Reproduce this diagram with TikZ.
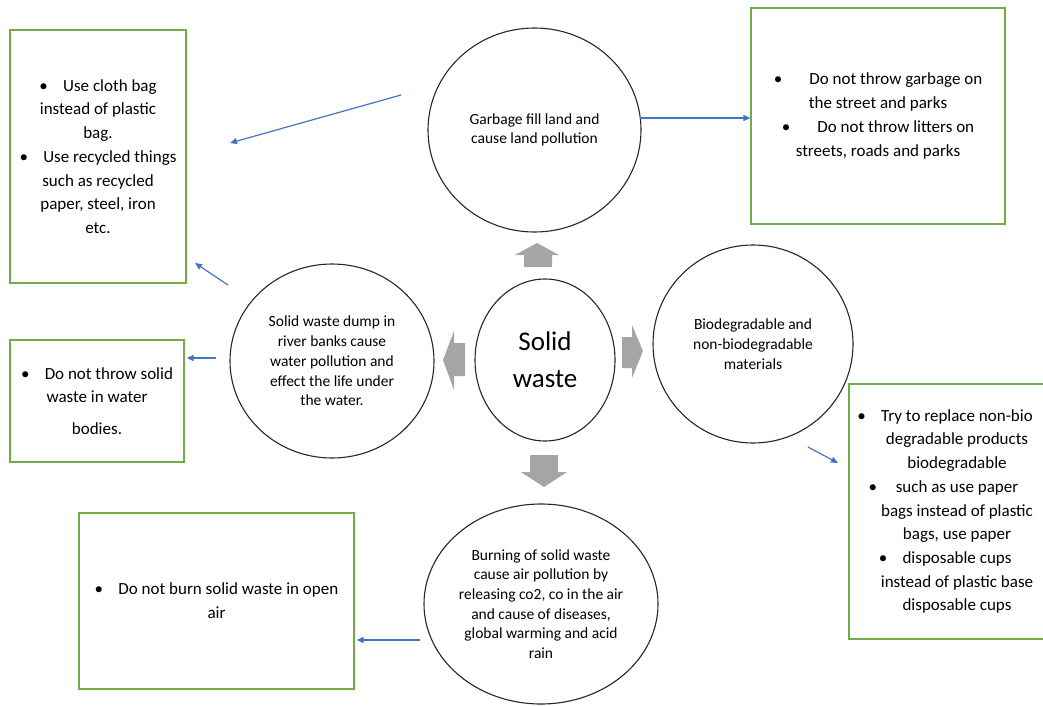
\documentclass[tikz,border=0pt]{standalone}
\usepackage{fontspec}
\setmainfont{Carlito}
\usetikzlibrary{shapes.geometric,arrows.meta}
\definecolor{boxgreen}{HTML}{70AD47}
\definecolor{arrblue}{HTML}{4472C4}
\definecolor{blockgray}{HTML}{A5A5A5}
\newcommand{\bul}[1][0.9em]{\textbullet\hspace{#1}}
\newcommand{\hbul}[1][0.9em]{\llap{\textbullet\hspace{#1}}}
\begin{document}
\begin{tikzpicture}[x=1pt,y=-1pt,
  circ/.style={ellipse,draw=black!85,line width=1.1pt,inner sep=0pt,align=center,
    font=\fontsize{15.5}{19.7}\selectfont},
  tipbox/.style={rectangle,draw=boxgreen,line width=1.3pt,inner sep=0pt,align=center,
    font=\fontsize{17}{23.7}\selectfont},
  link/.style={draw=arrblue,line width=1.2pt,-{Triangle[length=7pt,width=6pt]}},
  block/.style={fill=blockgray,draw=none}]
\useasboundingbox (0,0) rectangle (1043,706);
\clip (0,0) rectangle (1043,706);

% circles
\node[circ,minimum width=213pt,minimum height=204pt] (garbage) at (534.5,130)
  {Garbage fill land and\\cause land pollution};
\node[circ,minimum width=140pt,minimum height=162pt,font=\fontsize{27}{37}\selectfont] (solid) at (545,360)
  {Solid\\waste};
\node[circ,minimum width=204pt,minimum height=194pt] (water) at (332,361)
  {Solid waste dump in\\river banks cause\\water pollution and\\effect the life under\\the water.};
\node[circ,minimum width=200pt,minimum height=198pt] (bio) at (753,344)
  {Biodegradable and\\non-biodegradable\\materials};
\node[circ,minimum width=234pt,minimum height=200pt] (burn) at (541,604)
  {Burning of solid waste\\cause air pollution by\\releasing co2, co in the air\\and cause of diseases,\\global warming and acid\\rain};

% boxes
\node[tipbox,minimum width=176pt,minimum height=253pt] (reuse) at (98,156.5)
  {\bul Use cloth bag\\instead of plastic\\bag.\\\bul Use recycled things\\such as recycled\\paper, steel, iron\\etc.};
\node[tipbox,minimum width=254pt,minimum height=216pt] (litter) at (878,116)
  {\bul[1.6em]Do not throw garbage on\\the street and parks\\\bul[1.6em]Do not throw litters on\\streets, roads and parks};
\node[tipbox,minimum width=174pt,minimum height=122pt] (waterbox) at (97,401)
  {\bul Do not throw solid\\waste in water\\[8pt]bodies.};
\node[tipbox,minimum width=216pt,minimum height=255pt] (biobox) at (957,511.5)
  {\hbul Try to replace non-bio\\degradable products\\biodegradable\\\hbul[1.1em]such as use paper\\bags instead of plastic\\bags, use paper\\\hbul disposable cups\\instead of plastic base\\disposable cups};
\node[tipbox,minimum width=275pt,minimum height=176pt] (burnbox) at (216.5,601)
  {\bul Do not burn solid waste in open\\air};

% blue connectors
\coordinate (g1s) at (401,95);
\coordinate (g1e) at (230,143);
\draw[link] (g1s) -- (g1e);
\coordinate (g2s) at (640,118);
\draw[link] (g2s) -- (g2s -| litter.west);
\coordinate (w1s) at (228,285);
\coordinate (w1e) at (195,263);
\draw[link] (w1s) -- (w1e);
\coordinate (w2s) at (216,358);
\draw[link,shorten >=2pt] (w2s) -- (w2s -| waterbox.east);
\coordinate (b1s) at (808,447);
\coordinate (b1e) at (838,463);
\draw[link] (b1s) -- (b1e);
\coordinate (u1s) at (420,640);
\draw[link,shorten >=2pt] (u1s) -- (u1s -| burnbox.east);

% gray block arrows
\fill[block] (524,267) -- (524,255) -- (515,255) -- (537,243) -- (559,255) -- (552,255) -- (552,267) -- cycle;
\fill[block] (465,343) -- (454,343) -- (454,331) -- (443,360) -- (454,390) -- (454,376) -- (465,376) -- cycle;
\fill[block] (622,337) -- (632,337) -- (632,325) -- (643,351) -- (632,378) -- (632,368) -- (622,368) -- cycle;
\fill[block] (530,455) -- (558,455) -- (558,472) -- (567,472) -- (544,487) -- (521,472) -- (530,472) -- cycle;
\end{tikzpicture}
\end{document}
